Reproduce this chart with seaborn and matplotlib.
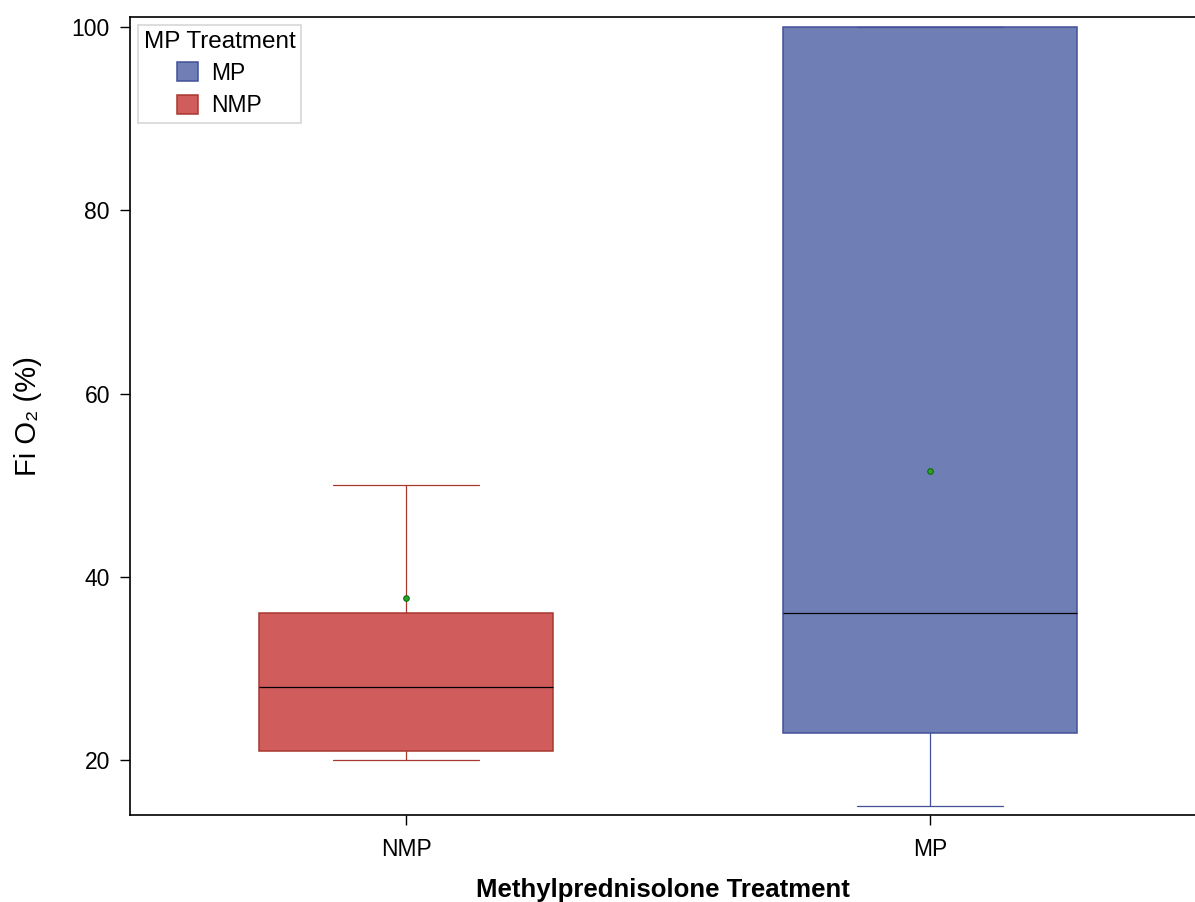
import matplotlib
matplotlib.use("Agg")
import matplotlib.pyplot as plt
from matplotlib.patches import Patch
import seaborn as sns
import pandas as pd

# Summary statistics of FiO2 (%) per treatment group
groups = ["NMP", "MP"]
whisker_low = [20, 15]
q1 = [21, 23]
median = [28, 36]
q3 = [36, 100]
whisker_high = [50, 100]
mean = [37.7, 51.5]

fill_colors = {"NMP": "#D05C5C", "MP": "#6F7FB5"}
edge_colors = {"NMP": "#A8382F", "MP": "#42509A"}

sns.set_theme(style="ticks")
plt.rcParams["font.family"] = ["Liberation Sans", "DejaVu Sans"]
plt.rcParams["text.color"] = "black"
plt.rcParams["axes.labelcolor"] = "black"

fig = plt.figure(figsize=(11.95, 9.02), dpi=100)
ax = fig.add_axes([0.1088, 0.0965, 0.8912, 0.8847])

stats = [
    dict(label=g, whislo=lo, q1=a, med=m, q3=b, whishi=hi, mean=mu, fliers=[])
    for g, lo, a, m, b, hi, mu in zip(groups, whisker_low, q1, median, q3, whisker_high, mean)
]

positions = list(range(len(groups)))
for pos, st in zip(positions, stats):
    g = st["label"]
    ax.bxp(
        [st], positions=[pos], widths=0.56, capwidths=0.28,
        patch_artist=True, showfliers=False, showmeans=False,
        boxprops=dict(facecolor=fill_colors[g], edgecolor=edge_colors[g], linewidth=1.1),
        whiskerprops=dict(color=edge_colors[g], linewidth=0.9),
        capprops=dict(color=edge_colors[g], linewidth=0.9),
        medianprops=dict(color="black", linewidth=0.9),
        manage_ticks=False,
    )

means_df = pd.DataFrame({"pos": positions, "mean": mean})
sns.scatterplot(data=means_df, x="pos", y="mean", ax=ax, s=16, color="#2DA02D",
                edgecolor="#0B6E0B", linewidth=0.8, zorder=5, legend=False)

ax.set_xlim(-0.527, 1.506)
ax.set_ylim(14.0, 101.1)
ax.set_xticks(positions)
ax.set_xticklabels(groups)
ax.set_yticks([20, 40, 60, 80, 100])
ax.tick_params(axis="both", labelsize=16.5, length=7.5, width=1, color="black", labelcolor="black")
ax.tick_params(axis="y", pad=7)
ax.tick_params(axis="x", pad=9)

for side in ["left", "bottom", "top"]:
    ax.spines[side].set_color("black")
    ax.spines[side].set_linewidth(1.2)
ax.spines["right"].set_visible(False)

ax.set_xlabel("Methylprednisolone Treatment", fontsize=18.5, fontweight="bold", labelpad=12, color="black")
ax.set_ylabel("Fi O\u2082 (%)", fontsize=21, labelpad=21, color="black")

handles = [
    Patch(facecolor=fill_colors["MP"], edgecolor=edge_colors["MP"], linewidth=1.1, label="MP"),
    Patch(facecolor=fill_colors["NMP"], edgecolor=edge_colors["NMP"], linewidth=1.1, label="NMP"),
]
leg = ax.legend(handles=handles, title="MP Treatment", loc="upper left",
                bbox_to_anchor=(0.0075, 0.99), borderaxespad=0, fontsize=16.5, title_fontsize=17.5,
                frameon=True, fancybox=False, handlelength=0.9, handleheight=0.9,
                handletextpad=0.6, borderpad=0.25, labelspacing=0.4, labelcolor="black")
leg.get_title().set_color("black")
leg.get_frame().set_edgecolor("#CCCCCC")
leg.get_frame().set_linewidth(1.2)

fig.savefig("out.png", dpi=100)
